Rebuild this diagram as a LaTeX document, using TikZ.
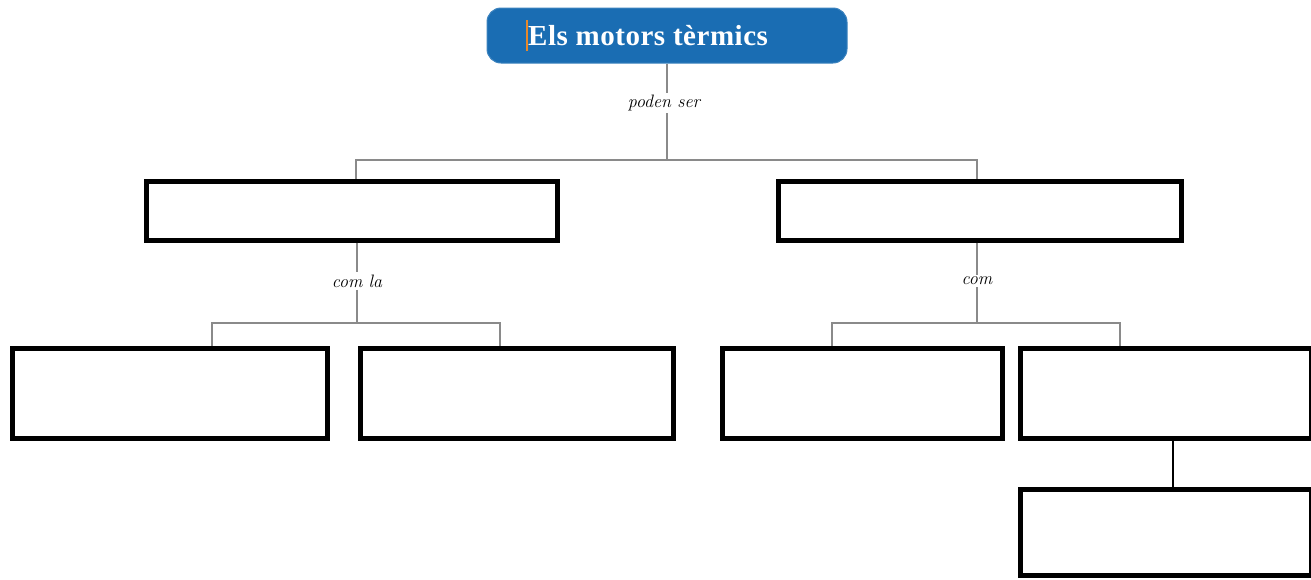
\documentclass[tikz,border=0pt]{standalone}
\usepackage{fontspec}
\newfontfamily\titlefont{Liberation Serif}
\usetikzlibrary{positioning}
\definecolor{titleblue}{HTML}{1A6DB3}
\definecolor{linkgray}{HTML}{8A8A8A}
\definecolor{cursororange}{HTML}{E8882A}
\tikzset{
  titlebox/.style={draw=titleblue!85!white, fill=titleblue, rounded corners=14pt,
    line width=1pt, minimum width=360pt, minimum height=55pt, inner sep=0pt},
  conceptbox/.style={draw=black, line width=5pt, fill=white, inner sep=0pt},
  linktext/.style={fill=white, inner sep=2pt, font=\fontsize{18}{20}\selectfont\itshape},
  link/.style={draw=linkgray, line width=1.6pt},
  solidlink/.style={draw=black, line width=2pt}
}
\begin{document}
\begin{tikzpicture}[x=1pt, y=-1pt]
  \useasboundingbox (0,0) rectangle (1311,579);

  % root concept
  \node[titlebox] (title) at (667,35.5) {};
  \node[anchor=west, text=white, inner sep=0pt,
        font=\titlefont\fontsize{29}{32}\selectfont\bfseries] (titletext)
        at (528,36) {\addfontfeatures{LetterSpace=1.8}Els motors tèrmics};
  \draw[cursororange, line width=1.5pt] (527,20) -- (527,51);

  % first level
  \node[conceptbox, minimum width=411pt, minimum height=59pt] (L1) at (351.5,210.5) {};
  \node[conceptbox, minimum width=403pt, minimum height=59pt] (R1) at (979.5,210.5) {};

  % second level
  \node[conceptbox, minimum width=315pt, minimum height=90pt] (L2a) at (169.5,393) {};
  \node[conceptbox, minimum width=313pt, minimum height=90pt] (L2b) at (516.5,393) {};
  \node[conceptbox, minimum width=280pt, minimum height=90pt] (R2a) at (862,393) {};
  \node[conceptbox, minimum width=291pt, minimum height=90pt] (R2b) at (1165.5,393) {};

  % third level
  \node[conceptbox, minimum width=291pt, minimum height=86pt] (R3) at (1165.5,532) {};

  % linking phrases
  \node[linktext] (lab1) at (664,103) {poden ser};
  \node[linktext] (lab2) at (357,281) {com la};
  \node[linktext] (lab3) at (977,281) {com};

  \coordinate (j1) at (667,160);
  \coordinate (j2) at (357,323);
  \coordinate (j3) at (977,323);

  % connectors
  \draw[link] (title.south) -- (title.south |- lab1.north);
  \draw[link] (title.south |- lab1.south) -- (j1);
  \draw[link] (j1) -| ([xshift=4.5pt]L1.north);
  \draw[link] (j1) -| ([xshift=-2.5pt]R1.north);

  \draw[link] ([xshift=5.5pt]L1.south) -- (lab2);
  \draw[link] (lab2) -- (j2);
  \draw[link] (j2) -| ([xshift=42.5pt]L2a.north);
  \draw[link] (j2) -| ([xshift=-16.5pt]L2b.north);

  \draw[link] ([xshift=-2.5pt]R1.south) -- (lab3);
  \draw[link] (lab3) -- (j3);
  \draw[link] (j3) -| ([xshift=-30pt]R2a.north);
  \draw[link] (j3) -| ([xshift=-45.5pt]R2b.north);

  \draw[solidlink] ([xshift=7.5pt]R2b.south) -- ([xshift=7.5pt]R3.north);
\end{tikzpicture}
\end{document}
